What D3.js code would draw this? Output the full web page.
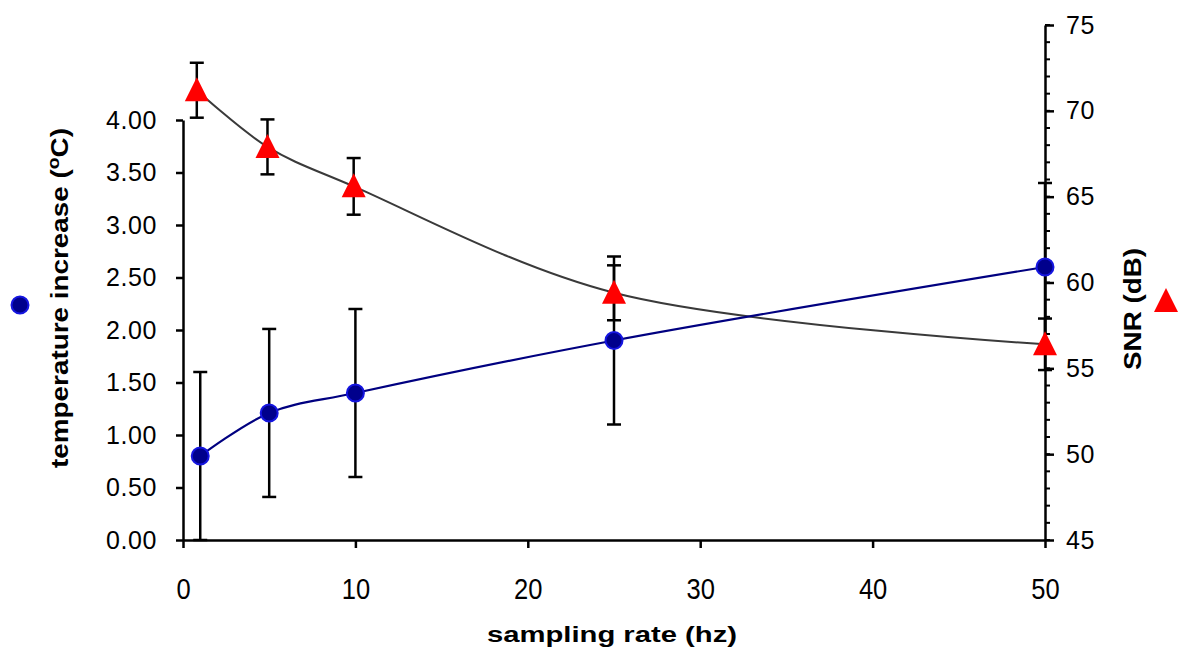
<!DOCTYPE html>
<html><head><meta charset="utf-8">
<script src="https://cdn.jsdelivr.net/npm/d3@7"></script>
<style>
body{margin:0;background:#fff}
svg{display:block}
text{font-family:"Liberation Sans",Arial,sans-serif;fill:#000}
</style>
</head><body>
<svg id="c" width="1200" height="670"></svg>
<script>
// ---- data ----
const rateTemp = [1, 5, 10, 25, 50];
const tempIncrease = [0.8, 1.21, 1.4, 1.9, 2.6];
const tempError = [0.8, 0.8, 0.8, 0.8, 0.8];
const rateSNR = [0.8, 4.9, 9.9, 25, 50];
const snr = [71.2, 67.9, 65.6, 59.4, 56.4];
const snrError = [1.6, 1.6, 1.65, 1.6, 1.5];
const xTicks = [0, 10, 20, 30, 40, 50];
const tempTicks = [0, 0.5, 1, 1.5, 2, 2.5, 3, 3.5, 4];
const snrTicks = [45, 50, 55, 60, 65, 70, 75];
const snrMinorTicks = d3.range(45, 76, 1);

const svg = d3.select("#c");
const x = d3.scaleLinear().domain([0, 50]).range([183, 1045]);
const yT = d3.scaleLinear().domain([0, 4]).range([540, 120]);
const yS = d3.scaleLinear().domain([45, 75]).range([540, 25]);

// axes
const gx = svg.append("g").attr("transform", "translate(0,540)")
  .call(d3.axisBottom(x).tickValues(xTicks).tickSize(8).tickSizeOuter(0).tickPadding(30).tickFormat(d3.format("d")));
gx.selectAll("text").attr("font-size", 29).attr("dy", "0.71em")
  .each(function(){ const w=this.getComputedTextLength(); d3.select(this).attr("textLength", w*0.88).attr("lengthAdjust","spacingAndGlyphs"); });

const gl = svg.append("g").attr("transform", "translate(183,0)")
  .call(d3.axisLeft(yT).tickValues(tempTicks).tickSize(7).tickSizeOuter(0).tickPadding(19).tickFormat(d3.format(".2f")));
gl.selectAll("text").attr("font-size", 25).attr("letter-spacing", 0.6);

const gr = svg.append("g").attr("transform", "translate(1045,0)");
gr.selectAll("line.minor").data(snrMinorTicks).enter().append("line")
  .attr("x1", 0).attr("x2", 5).attr("y1", d => yS(d)).attr("y2", d => yS(d))
  .attr("stroke", "#000").attr("stroke-width", 2);
gr.call(d3.axisRight(yS).tickValues(snrTicks).tickSize(9).tickSizeOuter(0).tickPadding(12).tickFormat(d3.format("d")));
gr.selectAll("text").attr("font-size", 25).attr("letter-spacing", 0.6);

svg.selectAll(".domain, .tick line").attr("stroke", "#000").attr("stroke-width", 2.5);
svg.selectAll(".tick text").attr("fill", "#000");

// lines
const tempData = rateTemp.map((r, i) => ({x: r, y: tempIncrease[i], e: tempError[i]}));
const snrData = rateSNR.map((r, i) => ({x: r, y: snr[i], e: snrError[i]}));

svg.append("path").datum(snrData)
  .attr("d", d3.line().x(d => x(d.x)).y(d => yS(d.y)).curve(d3.curveCatmullRom.alpha(0.5)))
  .attr("fill", "none").attr("stroke", "#3a3a3a").attr("stroke-width", 2);
svg.append("path").datum(tempData)
  .attr("d", d3.line().x(d => x(d.x)).y(d => yT(d.y)).curve(d3.curveCatmullRom.alpha(0.5)))
  .attr("fill", "none").attr("stroke", "#000080").attr("stroke-width", 2.2);

// error bars
function errorBars(data, ys) {
  const g = svg.append("g").attr("stroke", "#000").attr("stroke-width", 2.5);
  data.forEach(d => {
    const lo = Math.max(d.y - d.e, ys.domain()[0]), hi = d.y + d.e;
    g.append("line").attr("x1", x(d.x)).attr("x2", x(d.x)).attr("y1", ys(lo)).attr("y2", ys(hi));
    [lo, hi].forEach(v => g.append("line").attr("x1", x(d.x) - 7).attr("x2", x(d.x) + 7).attr("y1", ys(v)).attr("y2", ys(v)));
  });
}
errorBars(tempData, yT);
errorBars(snrData, yS);

// markers
const tri = (cx, cy, s) => `M${cx},${cy - s}L${cx + s},${cy + s}L${cx - s},${cy + s}Z`;
svg.append("g").selectAll("path").data(snrData).enter().append("path")
  .attr("d", d => tri(x(d.x), yS(d.y) - 1, 12)).attr("fill", "#ff0000");
svg.append("g").selectAll("circle").data(tempData).enter().append("circle")
  .attr("cx", d => x(d.x)).attr("cy", d => yT(d.y)).attr("r", 8.5)
  .attr("fill", "#00008c").attr("stroke", "#1515e0").attr("stroke-width", 2);

// titles
svg.append("text").attr("x", 612).attr("y", 642).attr("text-anchor", "middle")
  .attr("font-size", 22).attr("font-weight", "bold")
  .attr("textLength", 250).attr("lengthAdjust", "spacingAndGlyphs")
  .text("sampling rate (hz)");

function fitRotated(t, cx, cy, target) {
  const len = t.node().getComputedTextLength();
  t.attr("transform", `translate(${cx},${cy}) rotate(-90) scale(${target / len},1)`);
}
const lt = svg.append("text").attr("text-anchor", "middle").attr("font-size", 23).attr("font-weight", "bold");
lt.append("tspan").text("temperature increase (");
lt.append("tspan").attr("font-size", 16).attr("dy", -9).text("o");
lt.append("tspan").attr("dy", 9).text("C)");
fitRotated(lt, 68, 298, 340);

const rt = svg.append("text").attr("text-anchor", "middle").attr("font-size", 23).attr("font-weight", "bold")
  .text("SNR (dB)");
fitRotated(rt, 1141, 309, 122);

// legend keys
svg.append("circle").attr("cx", 20).attr("cy", 305).attr("r", 8.5)
  .attr("fill", "#00008c").attr("stroke", "#1515e0").attr("stroke-width", 2);
svg.append("path").attr("d", tri(1166, 300, 12)).attr("fill", "#ff0000");
</script>
</body></html>
